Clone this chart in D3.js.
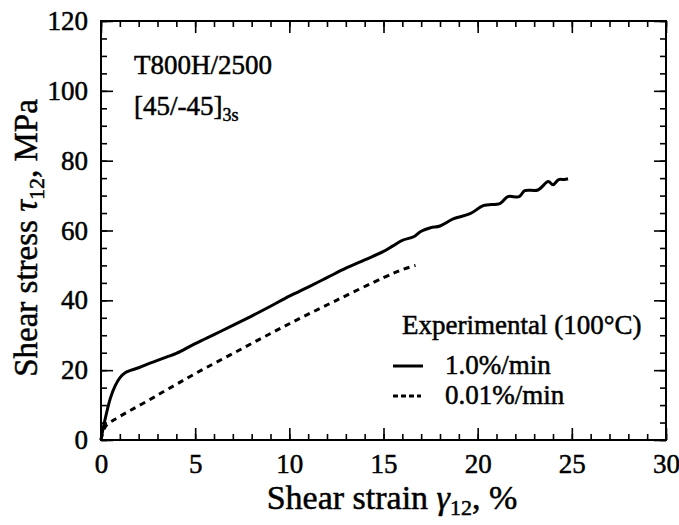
<!DOCTYPE html>
<html>
<head>
<meta charset="UTF-8">
<title>Shear stress vs shear strain</title>
<script src="https://d3js.org/d3.v7.min.js"></script>
<style>
  body { margin:0; background:#fff; }
  text { font-family: "Liberation Serif", "DejaVu Serif", serif; fill:#000; stroke:#000; stroke-width:0.5px; }
</style>
</head>
<body>
<div id="chart"></div>
<script>
// strain (%) and stress (MPa)
let fastStrain = [0,0.1,0.2,0.35,0.5,0.75,1.0,1.3,1.6,2.0,2.5,3,3.5,4,5,6,7,8,9,10,11,12,13,14,15,15.5,16,16.6,17,17.5,18,18.7,19.6,20.3,21.2,21.6,22.2,22.5,23.2,23.75,24.0,24.3,24.6,24.8]
let fastStress = [0,3,5.5,9,12,15.5,17.8,19.3,20.0,20.7,21.8,22.8,23.8,24.8,27.6,30.2,32.8,35.5,38.3,41.2,43.8,46.5,49.2,51.6,54,55.6,57.2,58.2,59.8,60.8,61.3,63.3,64.8,67.1,67.8,69.7,69.7,71.4,71.6,74,73.1,74.6,74.6,74.8]
let slowStrain = [0,0.15,0.3,0.7,1.5,2.5,3.5,5,7.5,10,12.5,15,16,16.7]
let slowStress = [0,3,4.3,5.8,8.3,11.3,14.4,19,26.2,33.3,40,46.5,48.8,50]

let xTicks = [0,5,10,15,20,25,30]
let yTicks = [0,20,40,60,80,100,120]
let legendLabels = ["1.0%/min","0.01%/min"]

let W=679, H=525
let svg=d3.select("#chart").append("svg").attr("width",W).attr("height",H)

let x=d3.scaleLinear().domain([0,30]).range([101,666])
let y=d3.scaleLinear().domain([0,120]).range([440,21])

let xMinor=d3.range(0,31,1), yMinor=d3.range(0,121,5)

// minor ticks, all four sides
function minor(axis, pos, vals){
  svg.append("g").attr("transform",pos).call(axis.tickValues(vals).tickSize(-6).tickFormat(""))
    .call(g=>g.select(".domain").remove())
    .selectAll("line").attr("stroke-width",1.6)
}
minor(d3.axisBottom(x),"translate(0,440)",xMinor)
minor(d3.axisTop(x),"translate(0,21)",xMinor)
minor(d3.axisLeft(y),"translate(101,0)",yMinor)
minor(d3.axisRight(y),"translate(666,0)",yMinor)

let gx=svg.append("g").attr("transform","translate(0,440)")
  .call(d3.axisBottom(x).tickValues(xTicks).tickSize(-12).tickPadding(14))
let gy=svg.append("g").attr("transform","translate(101,0)")
  .call(d3.axisLeft(y).tickValues(yTicks).tickSize(-12).tickPadding(13))
svg.append("g").attr("transform","translate(0,21)")
  .call(d3.axisTop(x).tickValues(xTicks).tickSize(-12).tickFormat(""))
svg.append("g").attr("transform","translate(666,0)")
  .call(d3.axisRight(y).tickValues(yTicks).tickSize(-12).tickFormat(""))
svg.selectAll(".domain").remove()
svg.selectAll(".tick line").attr("stroke-width",1.6)
svg.selectAll(".tick text").attr("font-size",27).style("font-family","Liberation Serif")

svg.append("rect").attr("x",101).attr("y",21).attr("width",565).attr("height",419)
  .attr("fill","none").attr("stroke","#000").attr("stroke-width",2)

let line=d3.line().curve(d3.curveCatmullRom)
svg.append("path")
  .attr("d",line(fastStrain.map((s,i)=>[x(s),y(fastStress[i])])))
  .attr("fill","none").attr("stroke","#000").attr("stroke-width",3)
svg.append("path")
  .attr("d",line(slowStrain.map((s,i)=>[x(s),y(slowStress[i])])))
  .attr("fill","none").attr("stroke","#000").attr("stroke-width",3).attr("stroke-dasharray","6,5")

// annotations
svg.append("text").attr("x",134).attr("y",74).attr("font-size",27).text("T800H/2500")
let t2=svg.append("text").attr("x",134).attr("y",115).attr("font-size",27)
t2.append("tspan").text("[45/-45]")
t2.append("tspan").attr("font-size",18).attr("dy",6).text("3s")

// legend
svg.append("text").attr("x",402).attr("y",334).attr("font-size",27).text("Experimental (100°C)")
svg.append("line").attr("x1",393).attr("x2",423).attr("y1",366).attr("y2",366)
  .attr("stroke","#000").attr("stroke-width",3)
svg.append("line").attr("x1",393).attr("x2",421).attr("y1",396).attr("y2",396)
  .attr("stroke","#000").attr("stroke-width",3).attr("stroke-dasharray","5,3")
svg.selectAll(".leg").data(legendLabels).enter().append("text")
  .attr("x",445).attr("y",(d,i)=>374+i*30).attr("font-size",27).text(d=>d)

// axis titles
let xt=svg.append("text").attr("x",392).attr("y",509).attr("text-anchor","middle").attr("font-size",34)
xt.append("tspan").text("Shear strain ")
xt.append("tspan").attr("font-style","italic").text("γ")
xt.append("tspan").attr("font-size",22).attr("dy",6).text("12")
xt.append("tspan").attr("dy",-6).text(", %")

let yt=svg.append("text").attr("transform","translate(37,238) rotate(-90)").attr("text-anchor","middle").attr("font-size",33)
yt.append("tspan").text("Shear stress ")
yt.append("tspan").attr("font-style","italic").text("τ")
yt.append("tspan").attr("font-size",22).attr("dy",7).text("12")
yt.append("tspan").attr("dy",-7).text(", MPa")
</script>
</body>
</html>
